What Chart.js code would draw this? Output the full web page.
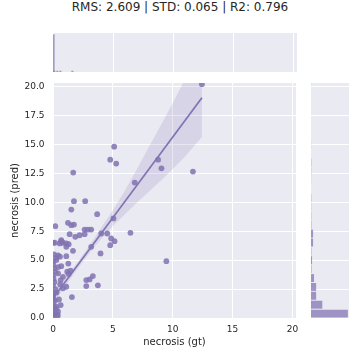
<!DOCTYPE html>
<html>
<head>
<meta charset="utf-8">
<script src="https://cdn.jsdelivr.net/npm/chart.js@4.4.1/dist/chart.umd.min.js"></script>
<style>
  body { margin: 0; width: 360px; height: 360px; background: #fff; position: relative; overflow: hidden; }
  #title { position: absolute; left: 0; top: 0; width: 360px; text-align: center;
           font-family: "DejaVu Sans", sans-serif; font-size: 12px; line-height: 14px; color: #262626; }
  canvas { position: absolute; }
</style>
</head>
<body>
<div id="title">RMS: 2.609 | STD: 0.065 | R2: 0.796</div>
<canvas id="marg-x" width="244" height="39" style="left:53px;top:33px"></canvas>
<canvas id="main" width="300" height="285" style="left:0;top:75px"></canvas>
<canvas id="marg-y" width="38" height="235" style="left:311px;top:83px"></canvas>
<script>
// scatter: ground truth vs prediction
const gtVals = [
  12.44, 5.11, 4.78, 5.28, 8.78, 9.06, 11.69, 6.83, 1.69, 1.75, 2.69, 1.53, 3.69, 5.05,
  0.19, 1.25, 1.53, 1.75, 2.64, 2.92, 3.19, 1.39, 1.86, 2.22, 2.64, 4.03, 4.53, 4.86,
  5.14, 6.47, 4.78, 3.19, 3.97, 9.47, 0.69, 0.83, 1.11, 0.56, 1.31, 1.11, 0.14, 1.67,
  0.42, 1.11, 0.28, 0.69, 1.19, 1.47, 1.31, 0.83, 0.42, 0.64, 3.06, 2.78, 3.33, 3.75,
  2.78, 1.11, 0.83, 1.58, 0.64, 0.42, 1.28, 0.58, 0.44, 0.67, 0.35, 0.5, 0.3, 0.6,
  0, 0.05, 0, 0.1, 0.02, 0.15, 0, 0.08, 0.2, 0, 0.12, 0.05, 0, 0.18, 0.1, 0.03,
  0, 0.25, 0.08, 0, 0.15, 0.3, 0.05, 0.4, 0.22, 0
];
const predVals = [
  20.2, 14.8, 13.68, 13.34, 13.68, 12.93, 12.65, 11.7, 12.56, 10.09, 10.09, 9.37, 8.97, 8.6,
  7.93, 8.22, 8.02, 8.07, 7.64, 7.64, 7.64, 7.24, 7.01, 7.15, 7.24, 7.3, 7.3, 6.87,
  6.64, 7.36, 6.29, 6.15, 5.58, 4.91, 6.72, 6.5, 6.44, 6.44, 6.38, 6.15, 6.5, 5.8,
  5.4, 5.34, 5.0, 4.48, 4.0, 4.08, 3.8, 3.56, 3.85, 3.28, 3.33, 3.28, 3.62, 2.82,
  2.76, 2.7, 2.56, 1.81, 1.12, 0.55, 4.7, 5.3, 4.4, 6.6, 0.3, 1.6, 2.2, 2.9,
  0.1, 0.3, 0.6, 0.9, 1.2, 1.5, 1.9, 2.2, 2.5, 2.8, 3.1, 3.4, 3.7, 4.0, 4.3, 4.6,
  4.9, 5.2, 5.5, 6.5, 0.4, 0.8, 1.6, 0.2, 1.0, 2.0
];

// regression line and confidence band
const regX = [0, 12.44];
const regY = [1.7, 19.03];
const bandX  = [0, 1, 2, 3, 4, 5, 6, 7, 8, 9, 10, 11, 12.44];
const bandLo = [1.2, 2.75, 4.2, 5.55, 6.8, 7.95, 8.95, 9.95, 10.9, 11.85, 12.85, 13.9, 15.63];
const bandHi = [2.2, 3.43, 4.76, 6.2, 7.75, 9.3, 11.0, 12.85, 14.75, 16.65, 18.55, 20.6, 23.5];

// marginal histograms
const predBinMid = [0.38, 1.15, 1.92, 2.68, 3.45, 4.22, 4.99, 5.75, 6.52, 7.29, 8.05, 8.82, 9.59,
  10.36, 11.12, 11.89, 12.66, 13.42, 14.19, 14.96, 15.73, 16.49, 17.26, 18.03, 18.79, 19.56, 20.33];
const predCounts = [388, 119, 54, 54, 32, 5, 11, 4, 22, 22, 4, 3, 2, 3, 0, 1, 2, 3, 0, 1, 0, 0, 0, 0, 0, 0, 1];
const gtBinMid = [0.05, 0.11, 0.36, 0.61, 1.61];
const gtCounts = [400, 10, 10, 10, 10];

const xTicks = [0, 5, 10, 15, 20];
const xTickLabels = ['0', '5', '10', '15', '20'];
const yTicks = [0, 2.5, 5, 7.5, 10, 12.5, 15, 17.5, 20];
const yTickLabels = ['0.0', '2.5', '5.0', '7.5', '10.0', '12.5', '15.0', '17.5', '20.0'];

const purple = '#8172b2';
const axMax = 20.3;
const txt = '#262626';
const fontFam = '"DejaVu Sans", sans-serif';

const bgPlugin = {
  id: 'bg',
  beforeDraw(chart) {
    const a = chart.chartArea;
    chart.ctx.save();
    chart.ctx.fillStyle = '#eaeaf2';
    chart.ctx.fillRect(a.left, a.top, a.right - a.left, a.bottom - a.top);
    chart.ctx.restore();
  }
};

// fixed axis boxes, no extra room for overflowing labels
function fixBox(w, h) {
  return s => {
    if (w !== null) s.width = w;
    if (h !== null) s.height = h;
    s.paddingLeft = 0; s.paddingRight = 0; s.paddingTop = 0; s.paddingBottom = 0;
  };
}

const gridOpts = { color: '#ffffff', lineWidth: 1, drawTicks: false };

new Chart(document.getElementById('main'), {
  type: 'scatter',
  data: {
    datasets: [
      {
        type: 'line',
        data: regX.map((x, i) => ({ x, y: regY[i] })),
        borderColor: purple,
        borderWidth: 1.7,
        pointRadius: 0,
        order: 0
      },
      {
        data: gtVals.map((x, i) => ({ x, y: predVals[i] })),
        backgroundColor: 'rgba(129,114,178,0.85)',
        borderWidth: 0,
        pointRadius: 2.9,
        order: 1
      },
      {
        type: 'line',
        data: bandX.map((x, i) => ({ x, y: bandLo[i] })),
        borderWidth: 0,
        pointRadius: 0,
        fill: false,
        order: 2
      },
      {
        type: 'line',
        data: bandX.map((x, i) => ({ x, y: bandHi[i] })),
        borderWidth: 0,
        pointRadius: 0,
        fill: '-1',
        backgroundColor: 'rgba(129,114,178,0.18)',
        order: 3
      }
    ]
  },
  options: {
    responsive: false,
    animation: false,
    layout: { padding: { top: 8, right: 3, left: 0, bottom: 0 } },
    plugins: { legend: { display: false }, tooltip: { enabled: false } },
    scales: {
      x: {
        type: 'linear', min: 0, max: axMax,
        afterBuildTicks: s => { s.ticks = xTicks.map(v => ({ value: v })); },
        afterFit: fixBox(null, 42),
        grid: gridOpts,
        border: { display: false },
        ticks: { padding: 6.5, color: txt, font: { family: fontFam, size: 9 },
                 callback: (v, i) => xTickLabels[i] },
        title: { display: true, text: 'necrosis (gt)', color: txt,
                 font: { family: fontFam, size: 10 }, padding: { top: 0, bottom: 12 } }
      },
      y: {
        type: 'linear', min: 0, max: axMax,
        afterBuildTicks: s => { s.ticks = yTicks.map(v => ({ value: v })); },
        afterFit: fixBox(53, null),
        grid: gridOpts,
        border: { display: false },
        ticks: { padding: 8.5, color: txt, font: { family: fontFam, size: 9 },
                 callback: (v, i) => yTickLabels[i] },
        title: { display: true, text: 'necrosis (pred)', color: txt,
                 font: { family: fontFam, size: 10 }, padding: { top: 9, bottom: 0 } }
      }
    }
  },
  plugins: [bgPlugin]
});

// top marginal (gt)
new Chart(document.getElementById('marg-x'), {
  type: 'bar',
  data: {
    datasets: [{
      data: gtBinMid.map((x, i) => ({ x, y: gtCounts[i] })),
      backgroundColor: 'rgba(129,114,178,0.72)',
      barThickness: 1.3
    }]
  },
  options: {
    responsive: false,
    animation: false,
    layout: { padding: 0 },
    plugins: { legend: { display: false }, tooltip: { enabled: false } },
    scales: {
      x: {
        type: 'linear', min: 0, max: axMax, offset: false,
        afterBuildTicks: s => { s.ticks = xTicks.map(v => ({ value: v })); },
        afterFit: fixBox(null, 0),
        grid: { ...gridOpts, offset: false },
        border: { display: false },
        ticks: { display: false }
      },
      y: { display: false, min: 0, max: 418 }
    }
  },
  plugins: [bgPlugin]
});

// right marginal (pred)
new Chart(document.getElementById('marg-y'), {
  type: 'bar',
  data: {
    datasets: [{
      data: predBinMid.map((y, i) => ({ x: predCounts[i], y })),
      backgroundColor: 'rgba(129,114,178,0.72)',
      barPercentage: 0.9,
      categoryPercentage: 1
    }]
  },
  options: {
    indexAxis: 'y',
    responsive: false,
    animation: false,
    layout: { padding: 0 },
    plugins: { legend: { display: false }, tooltip: { enabled: false } },
    scales: {
      x: { display: false, min: 0, max: 400 },
      y: {
        type: 'linear', min: 0, max: axMax, offset: false,
        afterBuildTicks: s => { s.ticks = yTicks.map(v => ({ value: v })); },
        afterFit: fixBox(0, null),
        grid: { ...gridOpts, offset: false },
        border: { display: false },
        ticks: { display: false }
      }
    }
  },
  plugins: [bgPlugin]
});
</script>
</body>
</html>
